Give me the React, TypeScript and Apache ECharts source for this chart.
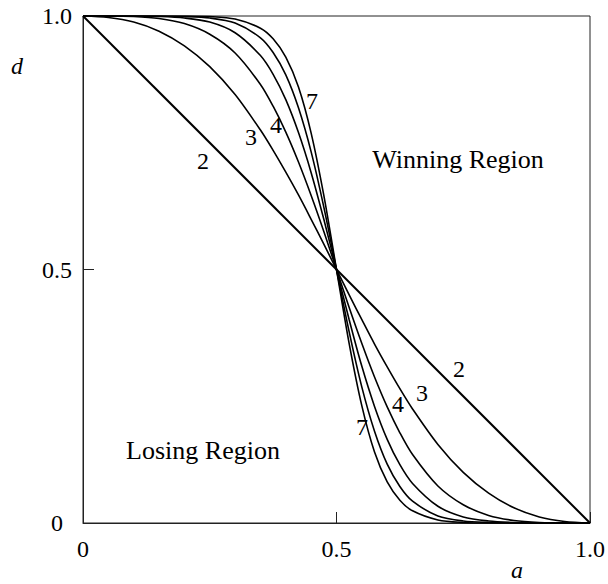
import React, { useEffect, useRef } from "react";
import * as echarts from "echarts";

// a-values shared by the curved series
const aValues = [0, 0.05, 0.1, 0.15, 0.2, 0.25, 0.3, 0.35, 0.375, 0.4, 0.425, 0.45, 0.475, 0.5,
  0.525, 0.55, 0.575, 0.6, 0.625, 0.65, 0.7, 0.75, 0.8, 0.85, 0.9, 0.95, 1];

// straight line, curve "2"
const a2 = [0, 1];
const d2 = [1, 0];

const d3 = [1, 0.997, 0.988, 0.97, 0.941, 0.9, 0.845, 0.775, 0.735, 0.692, 0.647, 0.599, 0.55, 0.5,
  0.45, 0.401, 0.353, 0.308, 0.265, 0.225, 0.155, 0.1, 0.059, 0.03, 0.012, 0.003, 0];
const d4 = [1, 1, 0.999, 0.995, 0.985, 0.964, 0.927, 0.865, 0.822, 0.771, 0.712, 0.646, 0.575, 0.5,
  0.425, 0.354, 0.288, 0.229, 0.178, 0.135, 0.073, 0.036, 0.015, 0.005, 0.001, 0, 0];
const d5 = [1, 1, 1, 0.999, 0.996, 0.988, 0.967, 0.922, 0.885, 0.835, 0.77, 0.691, 0.599, 0.5,
  0.401, 0.309, 0.23, 0.165, 0.115, 0.078, 0.033, 0.012, 0.004, 0.001, 0, 0, 0];
const d6 = [1, 1, 1, 1, 0.999, 0.996, 0.986, 0.957, 0.928, 0.884, 0.819, 0.732, 0.623, 0.5,
  0.377, 0.268, 0.181, 0.116, 0.072, 0.043, 0.014, 0.004, 0.001, 0, 0, 0, 0];
const d7 = [1, 1, 1, 1, 1, 0.999, 0.994, 0.976, 0.955, 0.919, 0.86, 0.769, 0.646, 0.5,
  0.354, 0.231, 0.14, 0.081, 0.045, 0.024, 0.006, 0.001, 0, 0, 0, 0, 0];

const xTickLabels = ["0", "0.5", "1.0"];
const yTickLabels = ["0", "0.5", "1.0"];

const FONT = "'Liberation Serif', 'Times New Roman', serif";

export default function App() {
  const ref = useRef<HTMLDivElement>(null);
  useEffect(() => {
    document.body.style.margin = "0";
    if (!ref.current) return;
    const chart = echarts.init(ref.current, null, { renderer: "svg" });
    const curves = [d3, d4, d5, d6, d7];
    const series: any[] = [
      {
        type: "line",
        data: a2.map((a, i) => [a, d2[i]]),
        showSymbol: false,
        lineStyle: { color: "#000", width: 2 },
        silent: true,
      },
      ...curves.map((d) => ({
        type: "line",
        data: aValues.map((a, i) => [a, d[i]]),
        showSymbol: false,
        smooth: 0.3,
        lineStyle: { color: "#000", width: 1.6 },
        silent: true,
      })),
    ];
    const txt = (x: number, y: number, text: string, size = 24, italic = false) => ({
      type: "text",
      x,
      y,
      style: {
        text,
        fill: "#000",
        font: `${italic ? "italic " : ""}${size}px ${FONT}`,
        align: "center",
        verticalAlign: "middle",
      },
      silent: true,
    });
    chart.setOption({
      animation: false,
      backgroundColor: "#fff",
      grid: {
        left: 83,
        right: 17,
        top: 16,
        bottom: 61,
        show: true,
        borderColor: "#222",
        borderWidth: 1,
      },
      xAxis: {
        type: "value",
        min: 0,
        max: 1,
        interval: 0.5,
        splitLine: { show: false },
        axisLine: { lineStyle: { color: "#222", width: 1 } },
        axisTick: { inside: true, length: 11, lineStyle: { color: "#222" } },
        axisLabel: {
          margin: 14,
          color: "#000",
          fontFamily: FONT,
          fontSize: 24,
          formatter: (v: number) => xTickLabels[Math.round(v * 2)],
        },
      },
      yAxis: {
        type: "value",
        min: 0,
        max: 1,
        interval: 0.5,
        splitLine: { show: false },
        axisLine: { show: true, lineStyle: { color: "#222", width: 1 } },
        axisTick: { show: true, inside: true, length: 11, lineStyle: { color: "#222" } },
        axisLabel: {
          margin: 26,
          align: "center",
          color: "#000",
          fontFamily: FONT,
          fontSize: 24,
          formatter: (v: number) => yTickLabels[Math.round(v * 2)],
        },
      },
      series,
      graphic: [
        txt(17, 66, "d", 24, true),
        txt(517, 570, "a", 24, true),
        txt(203, 161, "2"),
        txt(251, 137, "3"),
        txt(276, 125, "4"),
        txt(312, 101, "7"),
        txt(459, 369, "2"),
        txt(422, 393, "3"),
        txt(398, 404, "4"),
        txt(362, 427, "7"),
        txt(458, 159, "Winning Region", 26),
        txt(203, 450, "Losing Region", 26),
      ],
    });
    return () => chart.dispose();
  }, []);
  return <div ref={ref} style={{ width: 608, height: 584 }} />;
}
